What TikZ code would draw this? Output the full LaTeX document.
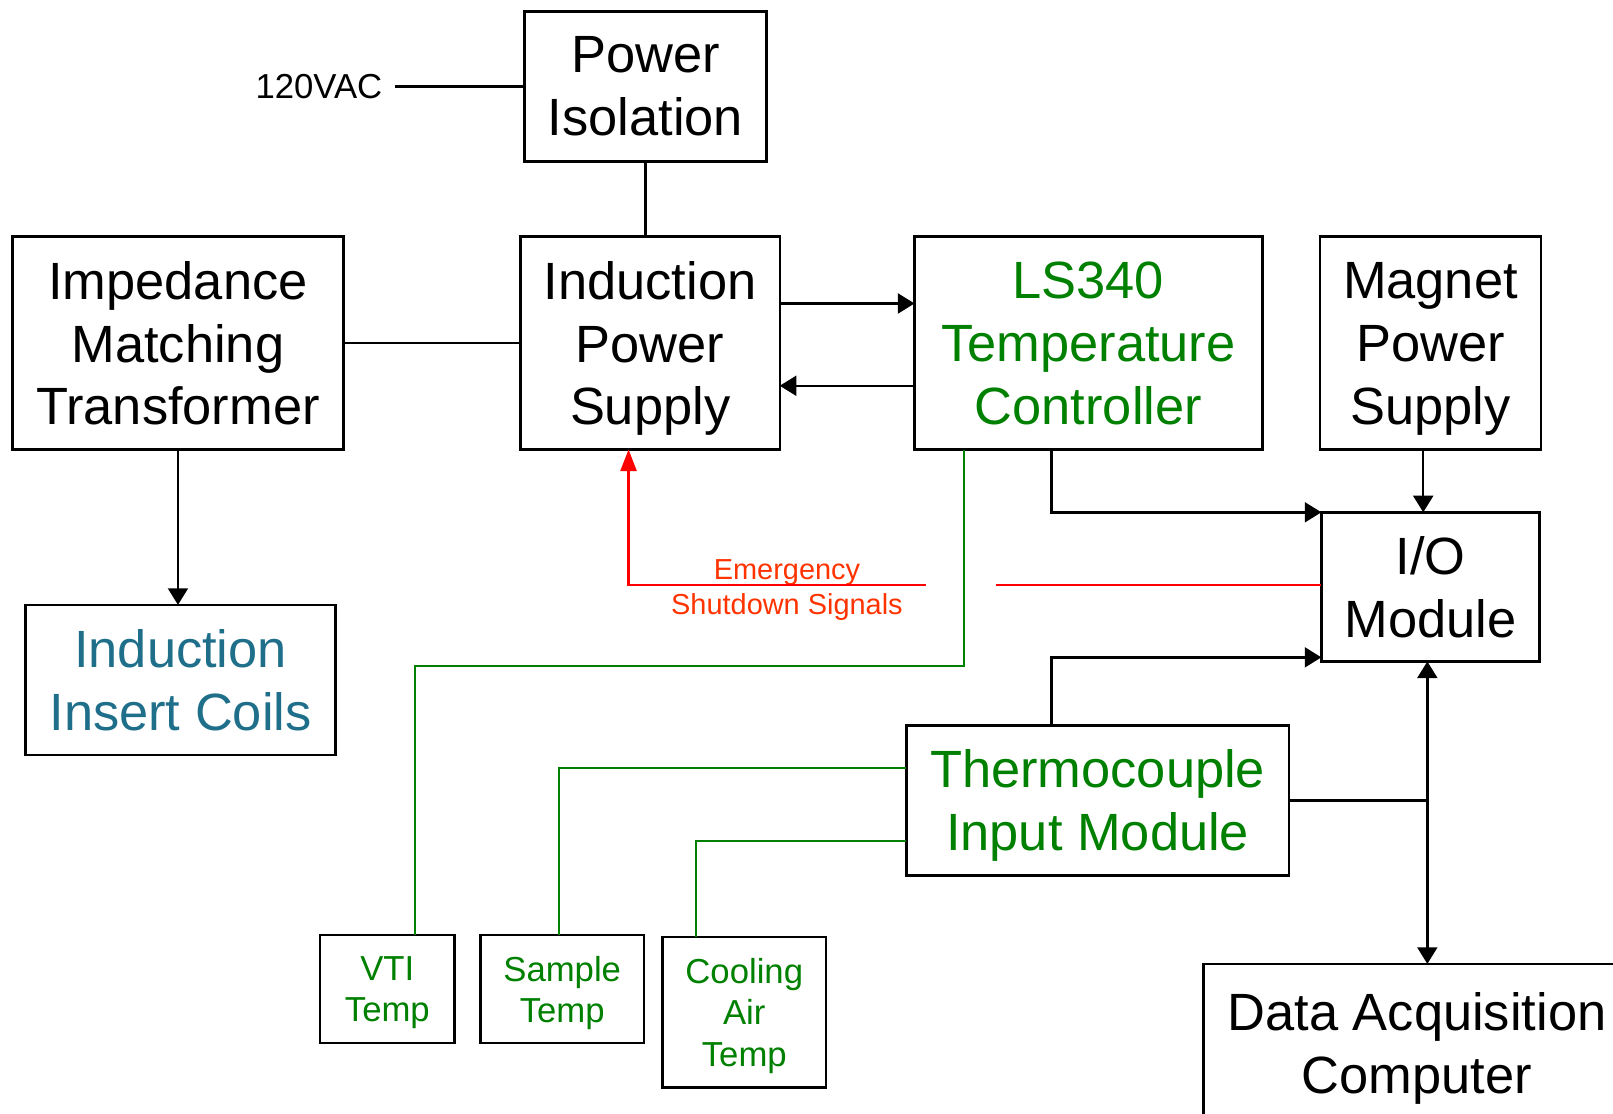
\documentclass[tikz,border=0pt]{standalone}
\usepackage{fontspec}
\setmainfont{Liberation Sans}
\usetikzlibrary{arrows.meta,positioning}
\definecolor{ctrlgreen}{RGB}{0,128,0}
\definecolor{coilblue}{RGB}{31,111,139}
\definecolor{alarmred}{RGB}{255,51,0}
\newcommand{\bigtext}{\fontsize{14.5}{17.4}\selectfont}
\newcommand{\smalltext}{\fontsize{9.6}{11.4}\selectfont}
\newcommand{\tinytext}{\fontsize{8}{9.7}\selectfont}

\begin{document}
\begin{tikzpicture}[
  block/.style={rectangle, draw, line width=0.7pt, align=center, inner sep=0pt, outer sep=0pt, font=\bigtext, text depth=-1pt},
  sensor/.style={rectangle, draw, line width=0.7pt, align=center, inner sep=0pt, outer sep=0pt, font=\smalltext, text=ctrlgreen, text depth=-0.8pt},
  link/.style={line width=0.7pt},
  arrow/.style={-{Triangle[length=4.6pt, width=5.5pt]}, line width=0.7pt},
  biarrow/.style={{Triangle[length=4.6pt, width=5.5pt]}-{Triangle[length=4.6pt, width=5.5pt]}, line width=0.7pt},
  probe/.style={draw=ctrlgreen, line width=0.55pt},
  alarm/.style={draw=red, line width=0.6pt}
]
\useasboundingbox (0,0) rectangle (15.68,-10.82);
\clip (0,0) rectangle (15.68,-10.82);

\node[block, minimum width=2.52cm, minimum height=2.07cm] (ips) at (6.32,-3.335) {Induction\\Power\\Supply};
\node[block, minimum width=2.35cm, minimum height=1.46cm, above=0.73cm of ips, xshift=-0.045cm] (isol) {Power\\Isolation};
\node[font=\smalltext, left=1.26cm of isol] (vac) {120VAC};
\node[block, minimum width=3.22cm, minimum height=2.07cm, left=1.72cm of ips] (imt) {Impedance\\Matching\\Transformer};
\node[block, minimum width=3.01cm, minimum height=1.46cm, below=1.51cm of imt, xshift=0.025cm, text=coilblue] (iic) {Induction\\Insert Coils};
\node[block, minimum width=3.38cm, minimum height=2.07cm, right=1.31cm of ips, text=ctrlgreen] (ls) {LS340\\Temperature\\Controller};
\node[block, minimum width=2.15cm, minimum height=2.07cm, right=0.56cm of ls] (mps) {Magnet\\Power\\Supply};
\node[block, minimum width=2.12cm, minimum height=1.45cm, below=0.61cm of mps] (io) {I/O\\Module};
\node[block, minimum width=3.72cm, minimum height=1.46cm, text=ctrlgreen] (tim) at (10.67,-7.78) {Thermocouple\\Input Module};
\node[block, minimum width=4.15cm, minimum height=1.53cm] (dac) at (13.775,-10.135) {Data Acquisition\\Computer};
\node[sensor, minimum width=1.31cm, minimum height=1.05cm] (vti) at (3.765,-9.615) {VTI\\Temp};
\node[sensor, minimum width=1.59cm, minimum height=1.05cm] (sample) at (5.465,-9.615) {Sample\\Temp};
\node[sensor, minimum width=1.59cm, minimum height=1.46cm] (cool) at (7.235,-9.84) {Cooling\\Air\\Temp};
\node[font=\tinytext, text=alarmred, align=center] (esd) at ([xshift=-5.195cm, yshift=-0.03cm]io.west) {Emergency\\Shutdown Signals};

\coordinate (hopR) at ([xshift=-3.165cm, yshift=0.015cm]io.west);
\coordinate (hopL) at ([xshift=-3.845cm, yshift=0.015cm]io.west);
\coordinate (vtibus) at (4.03,-6.47);

\draw[link] (vac) -- (isol);
\draw[link] (isol.south) -- (isol.south |- ips.north);
\draw[link] (imt) -- (ips);
\draw[arrow] ([yshift=0.385cm]ips.east) -- ([yshift=0.385cm]ls.west);
\draw[arrow] ([yshift=-0.415cm]ls.west) -- ([yshift=-0.415cm]ips.east);
\draw[arrow] (imt) -- (iic.north -| imt.south);
\draw[arrow] ([xshift=-0.07cm]mps.south) -- ([xshift=-0.07cm]io.north);
\draw[arrow] ([xshift=-0.36cm]ls.south) |- (io.north west);
\draw[arrow] ([xshift=-0.45cm]tim.north) |- ([yshift=0.04cm]io.south west);
\draw[biarrow] ([xshift=-0.03cm]io.south) -- ([xshift=-0.03cm]io.south |- dac.north);
\draw[link] (tim.east) -- ([xshift=-0.03cm]tim.east -| io.south);
\draw[alarm] ([yshift=0.015cm]io.west) -- (hopR);
\draw[alarm, -{Triangle[length=6pt, width=4.5pt]}] (hopL) -| ([xshift=-0.21cm]ips.south);
\draw[probe] ([xshift=-1.21cm]ls.south) |- (vtibus) -- ([xshift=0.265cm]vti.north);
\draw[probe] ([yshift=0.31cm]tim.west) -| ([xshift=-0.035cm]sample.north);
\draw[probe] ([yshift=-0.40cm]tim.west) -| ([xshift=-0.465cm]cool.north);
\end{tikzpicture}
\end{document}
